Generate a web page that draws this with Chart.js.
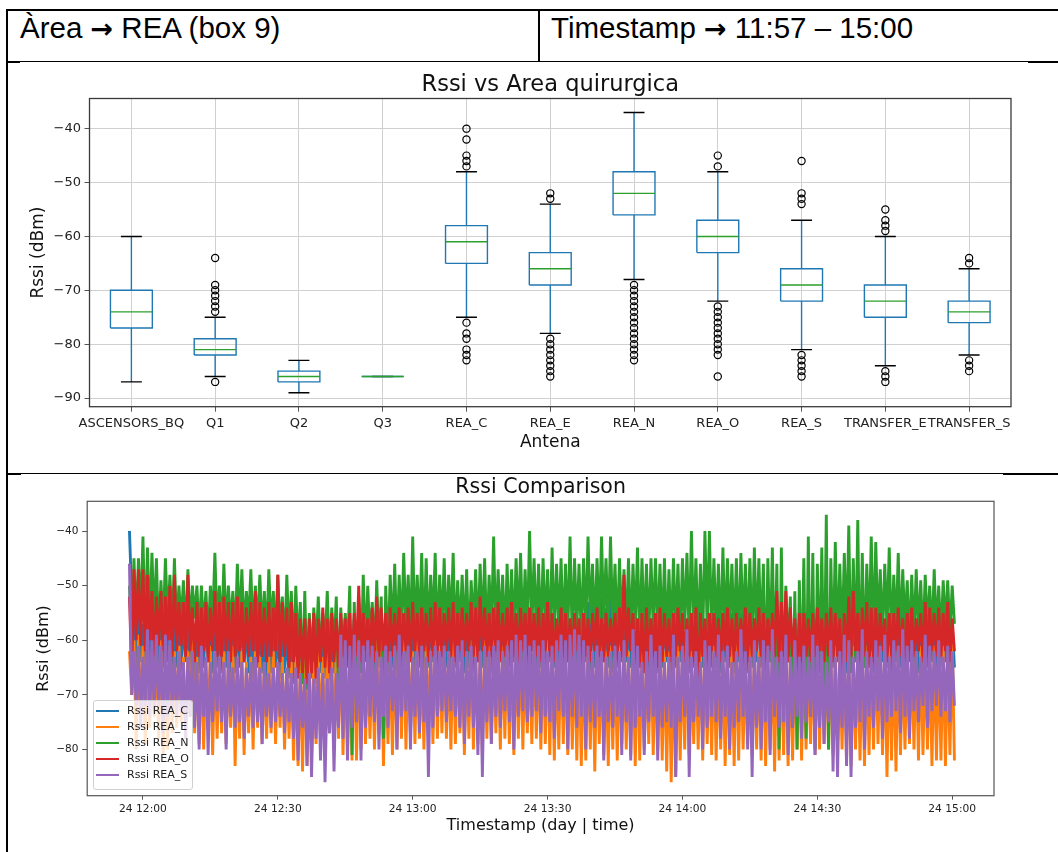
<!DOCTYPE html>
<html>
<head>
<meta charset="utf-8">
<title>REA (box 9) - Rssi</title>
<script src="https://cdn.jsdelivr.net/npm/chart.js@4.4.1/dist/chart.umd.min.js"></script>
<style>
  html, body { margin: 0; padding: 0; background: #fff; }
  #page { position: relative; width: 1058px; height: 852px; overflow: hidden; }
  .rule { position: absolute; background: #000; }
  .cell-text { position: absolute; font: 29.5px/1 'Liberation Sans', Arial, sans-serif; color: #000; white-space: nowrap; }
  .arrow { font-family: 'DejaVu Sans', sans-serif; font-weight: bold; font-size: 27px; }
  canvas { position: absolute; }
  #legend {
    position: absolute; left: 93px; top: 700px; width: 100px; height: 90px;
    box-sizing: border-box; border: 1px solid #d0d0d0; border-radius: 3px;
    background: rgba(255, 255, 255, 0.8); padding-top: 1.7px;
    font: 11px/16px 'DejaVu Sans', sans-serif; color: #222; z-index: 2;
  }
  .lg-row { height: 16px; display: flex; align-items: center; }
  .lg-swatch { width: 23px; height: 2px; margin-left: 2px; margin-right: 8px; }
</style>
</head>
<body>
<div id="page">
  <!-- table rules -->
  <div class="rule" style="left:6px; top:9px; width:1052px; height:2px"></div>
  <div class="rule" style="left:6px; top:9px; width:2px; height:843px"></div>
  <div class="rule" style="left:538px; top:9px; width:2px; height:53px"></div>
  <div class="rule" style="left:8px; top:61px; width:1020px; height:1px"></div>
  <div class="rule" style="left:6px; top:61px; width:14px; height:2px"></div>
  <div class="rule" style="left:1028px; top:61px; width:30px; height:2px"></div>
  <div class="rule" style="left:8px; top:473px; width:995px; height:1px"></div>
  <div class="rule" style="left:6px; top:473px; width:15px; height:2px"></div>
  <div class="rule" style="left:1003px; top:473px; width:55px; height:2px"></div>

  <div class="cell-text" style="left:20px; top:12.5px">Àrea <span class="arrow">→</span> REA (box 9)</div>
  <div class="cell-text" style="left:551px; top:12.5px">Timestamp <span class="arrow">→</span> 11:57 – 15:00</div>

  <canvas id="boxChart" width="1050" height="408" style="left:8px; top:63px"></canvas>
  <canvas id="lineChart" width="1050" height="378" style="left:8px; top:474px"></canvas>
  <div id="legend"></div>
</div>

<script>
// ---------- Box plot: Rssi vs Area quirurgica ----------
const antennas = ['ASCENSORS_BQ', 'Q1', 'Q2', 'Q3', 'REA_C', 'REA_E', 'REA_N', 'REA_O', 'REA_S', 'TRANSFER_E', 'TRANSFER_S'];
const whiskerLow  = [-87, -86, -89, -86, -75, -78, -68, -72, -81, -84, -82];
const boxLow      = [-77, -82, -87, -86, -65, -69, -56, -63, -72, -75, -76];
const medians     = [-74, -81, -86, -86, -61, -66, -52, -60, -69, -72, -74];
const boxHigh     = [-70, -79, -85, -86, -58, -63, -48, -57, -66, -69, -72];
const whiskerHigh = [-60, -75, -83, -86, -48, -54, -37, -48, -57, -60, -66];
const outliers = [
    [],
    [-64, -69, -70, -71, -72, -73, -74, -87],
    [],
    [],
    [-40, -42, -45, -46, -47, -76, -78, -79, -81, -82, -83],
    [-52, -53, -79, -80, -81, -82, -83, -84, -85, -86],
    [-69, -70, -71, -72, -73, -74, -75, -76, -77, -78, -79, -80, -81, -82, -83],
    [-45, -47, -73, -74, -75, -76, -77, -78, -79, -80, -81, -82, -86],
    [-46, -52, -53, -54, -82, -83, -84, -85, -86],
    [-55, -57, -58, -59, -85, -86, -87],
    [-64, -65, -83, -84, -85]
];
const boxYTicks = [-90, -80, -70, -60, -50, -40];

// ---------- Time series: Rssi Comparison ----------
// one high / low reading per minute, first minute is 11:57 (-3 min from 12:00)
const firstMinute = -3;
const seriesLabels = ['Rssi REA_C', 'Rssi REA_E', 'Rssi REA_N', 'Rssi REA_O', 'Rssi REA_S'];
const seriesColors = ['#1f77b4', '#ff7f0e', '#2ca02c', '#d62728', '#9467bd'];
const lineXTicks = [0, 30, 60, 90, 120, 150, 180];
const lineXLabels = ['24 12:00', '24 12:30', '24 13:00', '24 13:30', '24 14:00', '24 14:30', '24 15:00'];
const lineYTicks = [-80, -70, -60, -50, -40];

const reaC_hi = [
    -40,-56,-55,-57,-56,-55,-57,-56,-55,-57,
    -56,-57,-55,-56,-58,-57,-56,-55,-57,-56,
    -57,-56,-58,-57,-56,-55,-57,-58,-56,-57,
    -58,-57,-56,-58,-57,-58,-59,-58,-57,-58,
    -58,-59,-57,-58,-59,-57,-58,-57,-56,-57,
    -56,-57,-55,-56,-57,-56,-55,-57,-56,-57,
    -57,-56,-55,-57,-56,-57,-56,-55,-57,-56,
    -56,-57,-56,-55,-57,-56,-57,-55,-56,-57,
    -57,-56,-55,-57,-56,-55,-57,-56,-57,-56,
    -57,-56,-57,-55,-56,-57,-56,-55,-56,-57,
    -56,-55,-53,-52,-53,-52,-54,-52,-53,-52,
    -55,-56,-57,-56,-55,-57,-56,-57,-56,-55,
    -57,-56,-55,-56,-57,-56,-55,-56,-57,-56,
    -56,-54,-55,-54,-55,-54,-55,-56,-57,-56,
    -52,-55,-56,-57,-56,-55,-57,-56,-55,-57,
    -56,-57,-55,-56,-57,-56,-55,-57,-56,-57,
    -56,-55,-57,-56,-55,-57,-56,-55,-57,-56,
    -57,-56,-55,-57,-56,-57,-56,-55,-57,-56,
    -56,-57,-56,-57
];
const reaC_lo = [
    -52,-65,-64,-66,-65,-64,-66,-65,-64,-66,
    -65,-66,-64,-65,-67,-66,-65,-64,-66,-65,
    -66,-65,-67,-66,-65,-64,-66,-67,-65,-66,
    -75,-66,-65,-67,-66,-67,-68,-67,-66,-67,
    -67,-68,-66,-67,-68,-66,-67,-66,-65,-66,
    -65,-66,-64,-65,-66,-65,-79,-66,-65,-66,
    -66,-65,-64,-66,-65,-66,-65,-64,-66,-65,
    -65,-66,-65,-64,-66,-65,-66,-64,-65,-66,
    -66,-65,-64,-66,-65,-64,-66,-65,-75,-74,
    -66,-65,-66,-64,-65,-66,-65,-64,-65,-66,
    -65,-64,-66,-65,-66,-64,-65,-66,-65,-64,
    -64,-65,-66,-65,-64,-66,-65,-66,-65,-64,
    -66,-65,-64,-65,-66,-65,-64,-65,-66,-65,
    -65,-66,-64,-65,-66,-64,-65,-66,-65,-64,
    -65,-66,-64,-65,-66,-65,-64,-65,-66,-64,
    -65,-64,-66,-65,-64,-66,-65,-64,-65,-66,
    -65,-64,-66,-65,-64,-66,-65,-64,-65,-66,
    -64,-65,-66,-64,-65,-66,-69,-65,-64,-65,
    -65,-64,-66,-65
];
const reaE_hi = [
    -62,-60,-59,-61,-60,-62,-61,-60,-63,-61,
    -62,-61,-63,-62,-60,-63,-62,-64,-61,-62,
    -63,-62,-64,-61,-63,-62,-64,-63,-62,-63,
    -64,-63,-62,-64,-63,-65,-64,-63,-64,-62,
    -63,-64,-62,-63,-62,-64,-61,-60,-62,-61,
    -60,-62,-61,-63,-62,-60,-61,-62,-63,-61,
    -62,-60,-61,-62,-60,-63,-61,-62,-60,-61,
    -61,-62,-60,-61,-63,-62,-60,-61,-62,-60,
    -61,-60,-62,-61,-60,-62,-61,-60,-61,-62,
    -60,-61,-62,-60,-61,-62,-60,-61,-62,-61,
    -62,-61,-60,-62,-61,-60,-62,-61,-63,-62,
    -61,-62,-63,-61,-62,-63,-61,-62,-60,-62,
    -62,-63,-61,-62,-60,-62,-63,-61,-62,-63,
    -61,-62,-63,-62,-61,-60,-62,-63,-61,-62,
    -62,-61,-63,-62,-60,-62,-61,-63,-62,-61,
    -61,-62,-63,-61,-62,-63,-62,-61,-62,-63,
    -62,-61,-62,-63,-61,-62,-60,-61,-62,-61,
    -62,-61,-63,-62,-61,-62,-61,-62,-63,-61,
    -62,-61,-62,-60
];
const reaE_lo = [
    -70,-80,-75,-79,-76,-74,-78,-81,-80,-77,
    -76,-75,-78,-74,-77,-79,-80,-76,-81,-78,
    -77,-79,-76,-83,-78,-81,-77,-80,-76,-79,
    -78,-77,-79,-76,-80,-78,-82,-83,-84,-83,
    -81,-79,-78,-80,-77,-79,-78,-81,-80,-82,
    -82,-80,-79,-78,-80,-77,-83,-79,-81,-80,
    -78,-80,-77,-79,-78,-80,-76,-79,-78,-77,
    -78,-80,-79,-77,-81,-78,-80,-79,-81,-78,
    -79,-77,-80,-78,-79,-81,-78,-80,-77,-79,
    -78,-80,-79,-81,-82,-80,-79,-81,-80,-82,
    -83,-82,-80,-84,-79,-81,-83,-80,-82,-79,
    -80,-81,-83,-82,-80,-79,-81,-80,-82,-84,
    -86,-85,-82,-80,-81,-79,-80,-82,-79,-81,
    -82,-80,-83,-81,-83,-82,-80,-79,-81,-80,
    -82,-83,-80,-84,-82,-81,-83,-82,-80,-82,
    -80,-79,-81,-80,-79,-80,-81,-79,-80,-82,
    -83,-80,-82,-83,-81,-80,-79,-81,-85,-82,
    -84,-81,-80,-79,-80,-82,-81,-80,-83,-82,
    -82,-83,-81,-82
];
const reaN_hi = [
    -50,-45,-45,-41,-43,-44,-45,-49,-45,-48,
    -45,-50,-49,-47,-50,-50,-50,-51,-50,-44,
    -50,-46,-50,-51,-46,-47,-51,-47,-50,-48,
    -51,-47,-51,-48,-52,-48,-51,-50,-53,-51,
    -55,-54,-52,-55,-51,-54,-52,-54,-55,-50,
    -53,-52,-48,-50,-53,-49,-52,-50,-48,-46,
    -48,-44,-48,-41,-48,-44,-45,-48,-44,-48,
    -45,-48,-44,-49,-48,-47,-49,-47,-46,-45,
    -48,-41,-47,-48,-46,-47,-45,-44,-47,-40,
    -45,-46,-45,-47,-43,-46,-45,-46,-41,-45,
    -46,-45,-41,-46,-45,-41,-45,-41,-46,-45,
    -47,-45,-46,-43,-45,-46,-45,-45,-46,-45,
    -47,-45,-46,-45,-44,-40,-45,-46,-40,-40,
    -45,-46,-43,-45,-46,-45,-44,-46,-45,-43,
    -45,-46,-45,-43,-46,-43,-50,-52,-51,-49,
    -45,-41,-44,-46,-43,-37,-45,-42,-46,-44,
    -39,-45,-38,-44,-46,-41,-42,-47,-46,-43,
    -48,-44,-47,-49,-48,-47,-49,-48,-50,-47,
    -50,-49,-49,-50
];
const reaN_lo = [
    -60,-58,-56,-60,-58,-57,-60,-58,-57,-59,
    -58,-57,-60,-58,-56,-59,-58,-60,-57,-58,
    -59,-58,-57,-60,-58,-59,-57,-60,-58,-59,
    -60,-58,-61,-59,-62,-60,-63,-62,-68,-69,
    -64,-62,-63,-61,-64,-62,-69,-63,-62,-81,
    -70,-66,-62,-60,-64,-62,-78,-63,-60,-61,
    -60,-58,-61,-60,-59,-62,-60,-58,-61,-59,
    -60,-58,-61,-59,-60,-62,-58,-60,-59,-61,
    -59,-60,-58,-61,-59,-60,-58,-60,-59,-58,
    -59,-60,-58,-61,-59,-58,-60,-59,-61,-58,
    -60,-58,-57,-59,-58,-57,-59,-58,-60,-58,
    -59,-60,-58,-61,-59,-60,-58,-59,-60,-61,
    -60,-59,-61,-58,-60,-59,-61,-60,-58,-60,
    -59,-61,-60,-58,-60,-61,-59,-60,-62,-60,
    -61,-70,-64,-66,-80,-72,-63,-76,-80,-70,
    -78,-74,-80,-66,-72,-80,-64,-62,-61,-60,
    -66,-64,-69,-65,-60,-61,-59,-60,-58,-61,
    -59,-60,-58,-61,-60,-59,-61,-58,-60,-59,
    -60,-58,-59,-57
];
const reaO_hi = [
    -52,-47,-47,-47,-48,-51,-52,-51,-52,-50,
    -48,-53,-53,-48,-54,-53,-54,-53,-54,-51,
    -53,-52,-53,-53,-52,-53,-54,-53,-51,-53,
    -54,-53,-54,-48,-53,-54,-53,-55,-56,-56,
    -56,-55,-56,-54,-56,-55,-56,-55,-56,-55,
    -55,-50,-55,-56,-54,-52,-54,-55,-54,-55,
    -54,-55,-54,-53,-55,-54,-55,-54,-53,-54,
    -55,-54,-53,-55,-54,-55,-53,-54,-52,-54,
    -55,-54,-53,-55,-54,-53,-55,-54,-55,-54,
    -55,-54,-55,-53,-55,-56,-54,-55,-56,-55,
    -56,-55,-56,-55,-54,-56,-55,-56,-55,-54,
    -48,-54,-55,-56,-55,-54,-56,-55,-54,-55,
    -56,-55,-54,-55,-56,-55,-54,-55,-56,-55,
    -55,-56,-55,-54,-56,-55,-56,-54,-55,-56,
    -54,-55,-56,-55,-51,-53,-51,-54,-56,-55,
    -55,-56,-55,-54,-56,-55,-54,-55,-56,-55,
    -52,-51,-55,-54,-53,-54,-54,-55,-56,-55,
    -55,-54,-56,-55,-54,-56,-55,-53,-54,-55,
    -54,-55,-53,-56
];
const reaO_lo = [
    -66,-60,-61,-62,-60,-63,-61,-62,-60,-63,
    -62,-61,-63,-62,-64,-63,-62,-64,-62,-63,
    -63,-62,-64,-63,-62,-64,-63,-62,-64,-63,
    -64,-63,-62,-64,-63,-65,-64,-67,-66,-68,
    -66,-67,-64,-65,-66,-64,-65,-63,-64,-65,
    -63,-64,-62,-63,-64,-63,-62,-64,-63,-62,
    -63,-62,-64,-62,-63,-62,-64,-63,-62,-63,
    -62,-63,-64,-62,-63,-62,-63,-64,-62,-63,
    -63,-62,-64,-63,-62,-63,-64,-62,-63,-62,
    -63,-64,-62,-63,-64,-62,-63,-64,-63,-62,
    -69,-63,-64,-62,-63,-64,-63,-62,-64,-63,
    -63,-62,-64,-65,-66,-64,-63,-65,-64,-63,
    -64,-63,-62,-64,-63,-64,-69,-63,-64,-62,
    -63,-64,-62,-63,-64,-63,-62,-64,-63,-62,
    -63,-64,-62,-63,-64,-63,-64,-63,-67,-64,
    -63,-64,-63,-62,-64,-63,-64,-63,-67,-64,
    -63,-62,-64,-63,-65,-64,-63,-62,-64,-63,
    -62,-63,-64,-62,-63,-62,-64,-63,-62,-63,
    -63,-62,-64,-62
];
const reaS_hi = [
    -46,-62,-61,-63,-58,-60,-59,-61,-59,-60,
    -63,-62,-64,-63,-62,-64,-61,-63,-64,-62,
    -63,-64,-62,-65,-63,-64,-65,-64,-63,-65,
    -64,-66,-65,-64,-66,-65,-66,-65,-66,-67,
    -66,-67,-65,-66,-67,-65,-66,-59,-60,-61,
    -59,-60,-61,-60,-61,-62,-63,-61,-62,-61,
    -59,-62,-61,-63,-62,-61,-63,-62,-61,-62,
    -61,-62,-63,-61,-60,-62,-61,-63,-62,-61,
    -62,-61,-60,-62,-61,-60,-59,-60,-59,-61,
    -60,-61,-60,-62,-61,-60,-59,-60,-59,-58,
    -59,-60,-61,-62,-61,-62,-63,-62,-61,-62,
    -60,-63,-58,-61,-64,-62,-59,-62,-61,-64,
    -63,-59,-63,-61,-58,-63,-62,-64,-60,-61,
    -62,-59,-62,-61,-64,-62,-58,-62,-63,-60,
    -63,-60,-61,-58,-63,-62,-59,-63,-60,-63,
    -61,-63,-59,-61,-62,-64,-60,-63,-62,-59,
    -60,-63,-62,-58,-62,-63,-60,-61,-59,-63,
    -60,-61,-58,-61,-60,-62,-63,-59,-61,-62,
    -60,-63,-61,-62
];
const reaS_lo = [
    -70,-72,-76,-72,-74,-73,-72,-77,-74,-73,
    -74,-73,-78,-74,-76,-80,-74,-81,-75,-73,
    -75,-80,-74,-76,-75,-78,-74,-76,-75,-79,
    -74,-76,-75,-74,-77,-75,-78,-82,-76,-83,
    -85,-78,-82,-86,-77,-84,-76,-78,-82,-76,
    -75,-82,-76,-74,-75,-80,-74,-76,-73,-80,
    -74,-73,-80,-74,-77,-75,-85,-76,-74,-73,
    -75,-73,-74,-76,-79,-74,-76,-81,-85,-75,
    -79,-74,-76,-73,-75,-80,-74,-73,-75,-74,
    -73,-77,-74,-75,-78,-73,-74,-80,-74,-76,
    -74,-80,-75,-76,-74,-82,-75,-76,-74,-81,
    -75,-82,-76,-74,-81,-75,-74,-82,-76,-75,
    -76,-85,-75,-74,-85,-75,-74,-80,-76,-74,
    -75,-78,-74,-80,-76,-75,-74,-80,-85,-76,
    -80,-75,-81,-74,-76,-75,-81,-76,-74,-78,
    -75,-74,-81,-76,-79,-75,-84,-85,-76,-83,
    -85,-76,-75,-80,-74,-76,-73,-78,-75,-74,
    -73,-77,-74,-78,-73,-75,-72,-76,-73,-72,
    -74,-73,-75,-72
];
const seriesHigh = [reaC_hi, reaE_hi, reaN_hi, reaO_hi, reaS_hi];
const seriesLow = [reaC_lo, reaE_lo, reaN_lo, reaO_lo, reaS_lo];

Chart.defaults.font.family = "'DejaVu Sans', sans-serif";
Chart.defaults.color = '#222';

// box around the plot area, like the matplotlib axes frame
const framePlugin = {
    id: 'frame',
    afterDatasetsDraw(chart, args, opts) {
        const { ctx, chartArea: a } = chart;
        ctx.save();
        ctx.strokeStyle = opts.color || '#333';
        ctx.lineWidth = opts.width || 1;
        ctx.strokeRect(a.left, a.top, a.right - a.left, a.bottom - a.top);
        ctx.restore();
    }
};

const minus = v => (v < 0 ? '\u2212' : '') + Math.abs(v);
const gap = { x: null, y: null };

// build the box plot pieces from the summary arrays
const positions = antennas.map((_, i) => i + 1);
const boxPts = [], whiskerPts = [], capPts = [], medianPts = [], flierPts = [];
positions.forEach((p, i) => {
    boxPts.push({ x: p - 0.25, y: boxLow[i] }, { x: p + 0.25, y: boxLow[i] },
                { x: p + 0.25, y: boxHigh[i] }, { x: p - 0.25, y: boxHigh[i] },
                { x: p - 0.25, y: boxLow[i] }, gap);
    whiskerPts.push({ x: p, y: boxHigh[i] }, { x: p, y: whiskerHigh[i] }, gap,
                    { x: p, y: boxLow[i] }, { x: p, y: whiskerLow[i] }, gap);
    capPts.push({ x: p - 0.125, y: whiskerHigh[i] }, { x: p + 0.125, y: whiskerHigh[i] }, gap,
                { x: p - 0.125, y: whiskerLow[i] }, { x: p + 0.125, y: whiskerLow[i] }, gap);
    medianPts.push({ x: p - 0.25, y: medians[i] }, { x: p + 0.25, y: medians[i] }, gap);
    outliers[i].forEach(v => flierPts.push({ x: p, y: v }));
});

const segStyle = (data, color, order) => ({
    data, order, showLine: true, spanGaps: false, pointRadius: 0,
    borderColor: color, borderWidth: 1.4, fill: false
});

new Chart(document.getElementById('boxChart'), {
    type: 'scatter',
    data: {
        datasets: [
            segStyle(whiskerPts, '#1f77b4', 5),
            segStyle(capPts, '#000000', 4),
            segStyle(boxPts, '#1f77b4', 3),
            segStyle(medianPts, '#2ca02c', 2),
            {
                data: flierPts, order: 1, pointRadius: 3.6, pointStyle: 'circle',
                borderColor: '#000', borderWidth: 1.2, backgroundColor: 'rgba(0,0,0,0)'
            }
        ]
    },
    options: {
        responsive: false,
        animation: false,
        events: [],
        layout: { padding: { left: 0, right: 47, top: 0, bottom: 0 } },
        plugins: {
            legend: { display: false },
            tooltip: { enabled: false },
            title: {
                display: true, text: 'Rssi vs Area quirurgica', fullSize: false,
                font: { size: 22.5, weight: 'normal' }, color: '#111',
                padding: { top: 8.5, bottom: 0 }
            },
            frame: { color: '#3a3a3a', width: 1.3 }
        },
        scales: {
            x: {
                type: 'linear', min: 0.5, max: 11.5,
                afterBuildTicks: s => { s.ticks = positions.map(v => ({ value: v })); },
                afterFit: s => { s.height = 64.3; },
                ticks: {
                    autoSkip: false, maxRotation: 0, minRotation: 0, padding: 4,
                    font: { size: 13 }, color: '#222',
                    callback: v => antennas[v - 1]
                },
                grid: { color: '#d0d0d0', lineWidth: 1, tickColor: '#555', tickLength: 5 },
                border: { display: false },
                title: { display: true, text: 'Antena', font: { size: 17 }, color: '#111', padding: { top: 0, bottom: 18 } }
            },
            y: {
                type: 'linear', min: -91.6, max: -34.4,
                afterBuildTicks: s => { s.ticks = boxYTicks.map(v => ({ value: v })); },
                afterFit: s => { s.width = 81.5; },
                ticks: { padding: 3.5, font: { size: 13 }, color: '#222', callback: minus },
                grid: { color: '#d0d0d0', lineWidth: 1, tickColor: '#555', tickLength: 5 },
                border: { display: false },
                title: { display: true, text: 'Rssi (dBm)', font: { size: 17 }, color: '#111', padding: { top: 20.1, bottom: 0 } }
            }
        }
    },
    plugins: [framePlugin]
});

// ---------- line chart ----------
const lineDatasets = seriesLabels.map((label, k) => {
    const pts = [];
    seriesHigh[k].forEach((hi, i) => {
        const t = firstMinute + i;
        pts.push({ x: t, y: hi }, { x: t + 0.5, y: seriesLow[k][i] });
    });
    return {
        label, data: pts, showLine: true, pointRadius: 0,
        borderColor: seriesColors[k], borderWidth: 2.9, fill: false,
        order: seriesLabels.length - k   // REA_S ends on top, as in the original
    };
});

new Chart(document.getElementById('lineChart'), {
    type: 'scatter',
    data: { datasets: lineDatasets },
    options: {
        responsive: false,
        animation: false,
        events: [],
        layout: { padding: { left: 0, right: 64, top: 0, bottom: 0 } },
        plugins: {
            legend: { display: false },
            tooltip: { enabled: false },
            title: {
                display: true, text: 'Rssi Comparison', fullSize: false,
                font: { size: 20.5, weight: 'normal' }, color: '#111',
                padding: { top: 1.7, bottom: 1 }
            },
            frame: { color: '#555', width: 1.2 }
        },
        scales: {
            x: {
                type: 'linear', min: -12.4, max: 189.3,
                afterBuildTicks: s => { s.ticks = lineXTicks.map(v => ({ value: v })); },
                afterFit: s => { s.height = 56.3; },
                ticks: {
                    autoSkip: false, maxRotation: 0, padding: 3,
                    font: { size: 10.7 }, color: '#222',
                    callback: (v, i) => lineXLabels[i]
                },
                grid: { drawOnChartArea: false, tickColor: '#555', tickLength: 4 },
                border: { display: false },
                title: { display: true, text: 'Timestamp (day | time)', font: { size: 16 }, color: '#111', padding: { top: 0, bottom: 16.5 } }
            },
            y: {
                type: 'linear', min: -88.45, max: -34.55,
                afterBuildTicks: s => { s.ticks = lineYTicks.map(v => ({ value: v })); },
                afterFit: s => { s.width = 79.2; },
                ticks: { padding: 3.8, font: { size: 10.5 }, color: '#222', callback: minus },
                grid: { drawOnChartArea: false, tickColor: '#555', tickLength: 5 },
                border: { display: false },
                title: { display: true, text: 'Rssi (dBm)', font: { size: 16 }, color: '#111', padding: { top: 26.4, bottom: 0 } }
            }
        }
    },
    plugins: [framePlugin]
});

// legend sits inside the plot, lower left
const legend = document.getElementById('legend');
seriesLabels.forEach((label, k) => {
    const row = document.createElement('div');
    row.className = 'lg-row';
    row.innerHTML = `<span class="lg-swatch" style="background:${seriesColors[k]}"></span><span>${label}</span>`;
    legend.appendChild(row);
});
</script>
</body>
</html>
